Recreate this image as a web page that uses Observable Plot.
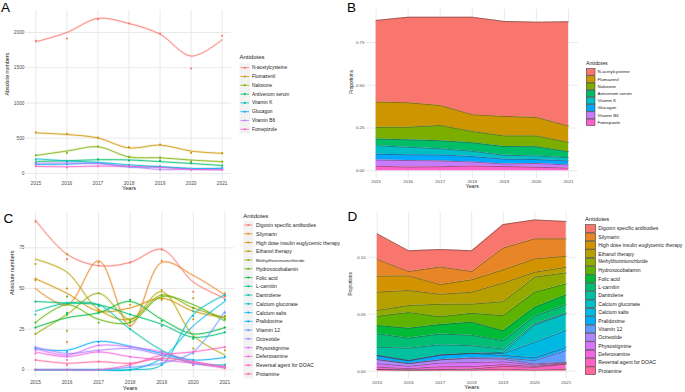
<!DOCTYPE html>
<html><head><meta charset="utf-8">
<script src="https://cdn.jsdelivr.net/npm/d3@7"></script>
<script src="https://cdn.jsdelivr.net/npm/@observablehq/plot@0.6"></script>
<style>
body{margin:0;background:#fff;}
#root{position:relative;width:685px;height:392px;overflow:hidden;background:#fff;}
.panel{position:absolute;overflow:hidden;}
.panel svg{display:block;}
</style></head><body><div id="root"></div>
<script>
// ---------------- DATA ----------------
const years = [2015, 2016, 2017, 2018, 2019, 2020, 2021];

const antidotesA = ["N-acetylcysteine", "Flumazenil", "Naloxone", "Antivenom serum", "Vitamin K", "Glucagon", "Vitamin B6", "Fomepizole"];
const countsA = [
  [1882, 1915, 2189, 2127, 1986, 1490, 1953],
  [585, 561, 509, 373, 410, 292, 288],
  [259, 290, 382, 235, 225, 168, 165],
  [152, 165, 200, 183, 182, 144, 112],
  [195, 168, 153, 119, 82, 56, 61],
  [133, 130, 148, 116, 100, 62, 77],
  [140, 146, 144, 90, 54, 59, 58],
  [105, 84, 102, 104, 89, 56, 51]
];
const trendA = [
  [1868, 2000, 2200, 2127, 1976, 1665, 1896],
  [575, 553, 503, 362, 402, 318, 285],
  [255, 318, 378, 235, 222, 190, 167],
  [170, 180, 195, 192, 168, 142, 112],
  [208, 178, 158, 122, 95, 72, 60],
  [128, 132, 145, 92, 92, 64, 75],
  [145, 148, 140, 100, 55, 58, 56],
  [100, 95, 104, 100, 88, 58, 52]
];
const propB = [
  [0.477, 0.500, 0.516, 0.570, 0.555, 0.557, 0.609],
  [0.148, 0.143, 0.117, 0.098, 0.114, 0.108, 0.096],
  [0.068, 0.074, 0.089, 0.066, 0.062, 0.063, 0.054],
  [0.039, 0.043, 0.047, 0.049, 0.051, 0.054, 0.035],
  [0.050, 0.044, 0.036, 0.032, 0.023, 0.021, 0.019],
  [0.034, 0.034, 0.035, 0.031, 0.028, 0.023, 0.024],
  [0.036, 0.038, 0.034, 0.024, 0.015, 0.022, 0.018],
  [0.027, 0.022, 0.024, 0.028, 0.025, 0.021, 0.016]
];

const antidotesC = ["Digoxin specific antibodies", "Silymarin", "High dose insulin euglycemic therapy", "Ethanol therapy",
  "Methylthioniniumchloride", "Hydroxocobalamin", "Folic acid", "L-carnitin", "Dantrolene", "Calcium gluconate",
  "Calcium salts", "Pralidoxime", "Vitamin 12", "Octreotide", "Physostigmine", "Deferoxamine",
  "Reversal agent for DOAC", "Protamine"];
const countsC = [
  [91, 68, 64, 66, 74, 48, 45],
  [56, 17, 66, 27, 67, 44, 47],
  [55, 50, 36, 40, 43, 31, 33],
  [65, 71, 37, 30, 49, 13, 12],
  [22, 24, 47, 30, 44, 38, 33],
  [29, 45, 29, 29, 46, 38, 31],
  [26, 34, 35, 43, 30, 20, 26],
  [42, 35, 40, 34, 27, 19, 23],
  [34, 41, 39, 25, 11, 3, 3],
  [0, 0, 0, 0, 3, 36, 46],
  [0, 0, 0, 0, 6, 33, 43],
  [13, 11, 17, 14, 9, 6, 8],
  [0, 0, 0, 2, 4, 10, 35],
  [14, 9, 12, 14, 9, 3, 2],
  [12, 8, 15, 14, 11, 4, 2],
  [10, 6, 11, 8, 6, 3, 2],
  [0, 0, 0, 3, 10, 11, 14],
  [6, 3, 5, 4, 7, 5, 1]
];
const trendC = [
  [92, 71, 64, 66, 74, 54, 44],
  [50, 40, 67, 27, 66, 58, 46],
  [56, 47, 36, 38, 44, 36, 32],
  [68, 60, 37, 31, 48, 21, 9],
  [22, 34, 47, 31, 46, 38, 32],
  [29, 40, 31, 29, 45, 40, 30],
  [26, 32, 35, 42, 31, 22, 26],
  [42, 41, 40, 34, 28, 20, 23],
  [36, 41, 40, 25, 12, 4, 3],
  [0, 0, 0, 0, 3, 34, 46],
  [0, 0, 0, 0, 7, 27, 42],
  [13, 12, 17.5, 14.5, 10, 6, 7.5],
  [0, 0, 0, 1.5, 4, 11, 36],
  [14, 10, 12, 13, 9, 4, 1.5],
  [13, 9, 15, 14, 11, 5, 2],
  [11, 8, 11, 8, 6, 4, 1],
  [0, 0, 0, 3, 9, 11, 14],
  [6, 4, 5, 4, 7, 5, 1.5]
];
const propD = [
  [0.0225, 0.0182, 0.0153, 0.0182, 0.0205, 0.0166, 0.0152],
  [0.0147, 0.0038, 0.0154, 0.0072, 0.0192, 0.0176, 0.0152],
  [0.0140, 0.0128, 0.0085, 0.0109, 0.0115, 0.0117, 0.0097],
  [0.0161, 0.0132, 0.0088, 0.0105, 0.0164, 0.0043, 0.0049],
  [0.0052, 0.0061, 0.0110, 0.0080, 0.0123, 0.0132, 0.0097],
  [0.0080, 0.0138, 0.0068, 0.0078, 0.0132, 0.0132, 0.0096],
  [0.0073, 0.0087, 0.0083, 0.0115, 0.0088, 0.0079, 0.0085],
  [0.0117, 0.0088, 0.0094, 0.0091, 0.0073, 0.0067, 0.0073],
  [0.0073, 0.0108, 0.0090, 0.0067, 0.0029, 0.0009, 0.0009],
  [0.0000, 0.0000, 0.0000, 0.0000, 0.0010, 0.0152, 0.0146],
  [0.0003, 0.0003, 0.0002, 0.0002, 0.0015, 0.0137, 0.0146],
  [0.0033, 0.0025, 0.0040, 0.0038, 0.0024, 0.0023, 0.0030],
  [0.0000, 0.0000, 0.0000, 0.0005, 0.0010, 0.0030, 0.0102],
  [0.0036, 0.0023, 0.0028, 0.0036, 0.0024, 0.0010, 0.0006],
  [0.0031, 0.0020, 0.0033, 0.0036, 0.0024, 0.0012, 0.0006],
  [0.0020, 0.0013, 0.0026, 0.0021, 0.0015, 0.0008, 0.0005],
  [0.0000, 0.0000, 0.0000, 0.0008, 0.0025, 0.0024, 0.0044],
  [0.0015, 0.0010, 0.0013, 0.0011, 0.0018, 0.0010, 0.0018]
];

const ticksA = [0, 500, 1000, 1500, 2000];
const ticksB = [0, 0.25, 0.5, 0.75];
const ticksC = [0, 25, 50, 75];
const ticksD = [0, 0.05, 0.10];

// ---------------- STYLE HELPERS ----------------
const FONT = '"Liberation Sans", Arial, Helvetica, sans-serif';
const GRID = "#e6e6e6";
const TICK = "#4d4d4d";
const TITLE = "#1a1a1a";

// ggplot2 default hue palette (HCL, polar LUV)
function hcl2hex(h, c, l) {
  const hr = h * Math.PI / 180;
  const U = c * Math.cos(hr), V = c * Math.sin(hr);
  const Y = l > 7.999592 ? Math.pow((l + 16) / 116, 3) : l / 903.3;
  const u = U / (13 * l) + 0.1978398, v = V / (13 * l) + 0.4683363;
  const X = 9 * Y * u / (4 * v);
  const Z = -X / 3 - 5 * Y + 3 * Y / v;
  const g = t => { t = t > 0.00304 ? 1.055 * Math.pow(t, 1 / 2.4) - 0.055 : 12.92 * t; return Math.round(255 * Math.max(0, Math.min(1, t))); };
  const r = g(3.240479 * X - 1.537150 * Y - 0.498535 * Z);
  const gg = g(-0.969256 * X + 1.875992 * Y + 0.041556 * Z);
  const b = g(0.055648 * X - 0.204043 * Y + 1.057311 * Z);
  return "#" + [r, gg, b].map(d => d.toString(16).padStart(2, "0")).join("");
}
const hue = n => d3.range(n).map(i => hcl2hex(15 + 360 * i / n, 100, 65));
const colorsA = hue(8), colorsC = hue(18);

const longTable = (names, cols) => names.flatMap((name, i) => years.map((year, j) => {
  const row = {name, year};
  for (const [k, arr] of Object.entries(cols)) row[k] = arr[i][j];
  return row;
}));
const tableA = longTable(antidotesA, {count: countsA, trend: trendA});
const tableB = longTable(antidotesA, {prop: propB});
const tableC = longTable(antidotesC, {count: countsC, trend: trendC});
const tableD = longTable(antidotesC, {prop: propD});
const yearFmt = d => String(d);

const root = document.getElementById("root");
function place(svg, left, top, w, h) {
  const div = document.createElement("div");
  div.className = "panel";
  Object.assign(div.style, {left: left + "px", top: top + "px", width: w + "px", height: h + "px"});
  div.appendChild(svg);
  root.appendChild(div);
}

function linePanel({names, colors, table, width, height, mL, mR, mT, mB, ydom, yticks, xPad, yPad, xTitleDy, yTitleDx, tickSize, xTitleSize, yTitleSize, yTitle}) {
  return Plot.plot({
    width, height, marginLeft: mL, marginRight: mR, marginTop: mT, marginBottom: mB,
    x: {domain: [2014.7, 2021.3]},
    y: {domain: ydom},
    color: {domain: names, range: colors},
    style: {fontFamily: FONT, fontSize: tickSize + "px", color: TICK, background: "transparent", overflow: "visible"},
    marks: [
      Plot.gridX(years, {stroke: GRID, strokeOpacity: 1, strokeWidth: 0.9}),
      Plot.gridY(yticks, {stroke: GRID, strokeOpacity: 1, strokeWidth: 0.9}),
      Plot.axisX(years, {tickSize: 0, tickPadding: xPad, tickFormat: yearFmt, label: null}),
      Plot.axisY(yticks, {tickSize: 0, tickPadding: yPad, tickFormat: yearFmt, label: null}),
      Plot.line(table, {x: "year", y: "trend", z: "name", stroke: "name", curve: "catmull-rom", strokeWidth: 2.6, strokeOpacity: 0.16}),
      Plot.line(table, {x: "year", y: "trend", z: "name", stroke: "name", curve: "catmull-rom", strokeWidth: 0.8}),
      Plot.dot(table, {x: "year", y: "count", fill: "name", r: 1.05}),
      Plot.text(["Years"], {frameAnchor: "bottom", dy: xTitleDy, fontSize: xTitleSize, fill: TITLE}),
      Plot.text([yTitle], {frameAnchor: "left", dx: yTitleDx, rotate: -90, fontSize: yTitleSize, fill: TITLE})
    ]
  });
}

function areaPanel({names, colors, table, width, height, mL, mR, mT, mB, ydom, yticks, xPad, yPad, xTitleDy, yTitleDx, tickSize, xTitleSize, yTitleSize}) {
  const order = names.slice().reverse();
  return Plot.plot({
    width, height, marginLeft: mL, marginRight: mR, marginTop: mT, marginBottom: mB,
    x: {domain: [2014.7, 2021.3]},
    y: {domain: ydom},
    color: {domain: names, range: colors},
    style: {fontFamily: FONT, fontSize: tickSize + "px", color: TICK, background: "transparent", overflow: "visible"},
    marks: [
      Plot.gridX(years, {stroke: GRID, strokeOpacity: 1, strokeWidth: 0.9}),
      Plot.gridY(yticks, {stroke: GRID, strokeOpacity: 1, strokeWidth: 0.9}),
      Plot.axisX(years, {tickSize: 0, tickPadding: xPad, tickFormat: yearFmt, label: null}),
      Plot.axisY(yticks, {tickSize: 0, tickPadding: yPad, tickFormat: d3.format(".2f"), label: null}),
      Plot.areaY(table, {x: "year", y: "prop", z: "name", fill: "name", order}),
      Plot.lineY(table, Plot.stackY2({x: "year", y: "prop", z: "name", order, stroke: "#3a3a3a", strokeWidth: 0.55, strokeOpacity: 0.85})),
      Plot.text(["Years"], {frameAnchor: "bottom", dy: xTitleDy, fontSize: xTitleSize, fill: TITLE}),
      Plot.text(["Proportions"], {frameAnchor: "left", dx: yTitleDx, rotate: -90, fontSize: yTitleSize, fill: TITLE})
    ]
  });
}

// Panel A
place(linePanel({names: antidotesA, colors: colorsA, table: tableA, width: 232, height: 195,
  mL: 26, mR: 1, mT: 10, mB: 15, ydom: [-100, 2312], yticks: ticksA, xPad: 0.8, yPad: 2,
  xTitleDy: 9.5, yTitleDx: -19, tickSize: 4.8, xTitleSize: 5.6, yTitleSize: 5.3, yTitle: "Absolute numbers"}), 0, 0, 232, 195);

// Panel B
place(areaPanel({names: antidotesA, colors: colorsA, table: tableB, width: 240, height: 195,
  mL: 26, mR: 2.4, mT: 9, mB: 17, ydom: [-0.045, 0.943], yticks: ticksB, xPad: 1.5, yPad: 2,
  xTitleDy: 9.3, yTitleDx: -15, tickSize: 4.4, xTitleSize: 5.3, yTitleSize: 4.7}), 340, 0, 240, 195);

// Panel C
place(linePanel({names: antidotesC, colors: colorsC, table: tableC, width: 236, height: 197,
  mL: 25.5, mR: 2.2, mT: 16.5, mB: 14.6, ydom: [-5, 97], yticks: ticksC, xPad: 3, yPad: 1.5,
  xTitleDy: 11.6, yTitleDx: -13.5, tickSize: 4.8, xTitleSize: 5.8, yTitleSize: 5.5, yTitle: "Absolute numbers"}), 0, 195, 236, 197);

// Panel D
place(areaPanel({names: antidotesC, colors: colorsC, table: tableD, width: 238, height: 197,
  mL: 27.25, mR: 2.85, mT: 16.9, mB: 13.8, ydom: [-0.0066, 0.1393], yticks: ticksD, xPad: 1.9, yPad: 2,
  xTitleDy: 10.1, yTitleDx: -17, tickSize: 4.4, xTitleSize: 5.9, yTitleSize: 4.6}), 340, 195, 238, 197);

// ---------------- Overlay: panel letters and legends ----------------
const ov = d3.select(root).append("svg")
  .attr("width", 685).attr("height", 392)
  .style("position", "absolute").style("left", 0).style("top", 0)
  .style("font-family", FONT);

ov.append("defs").append("clipPath").attr("id", "clipC")
  .append("rect").attr("x", 0).attr("y", 195).attr("width", 340).attr("height", 197);

[["A", 1, 12], ["B", 347, 12], ["C", 3.5, 223], ["D", 347.5, 221]].forEach(([t, x, y]) =>
  ov.append("text").attr("x", x).attr("y", y).attr("font-size", 13.5).attr("fill", "#000").text(t));

function lineLegend({x, titleY, y0, step, names, colors, keyW, labelX, fontSize, titleSize, clip, special}) {
  const g = ov.append("g");
  if (clip) g.attr("clip-path", "url(#clipC)");
  g.append("text").attr("x", x).attr("y", titleY).attr("dominant-baseline", "central")
    .attr("font-size", titleSize).attr("fill", TITLE).text("Antidotes");
  names.forEach((n, i) => {
    const cy = y0 + i * step;
    g.append("rect").attr("x", x).attr("y", cy - step / 2).attr("width", keyW).attr("height", step).attr("fill", "#f2f2f2");
    g.append("line").attr("x1", x + 1).attr("x2", x + keyW - 1).attr("y1", cy).attr("y2", cy)
      .attr("stroke", colors[i]).attr("stroke-width", 0.8);
    g.append("circle").attr("cx", x + keyW / 2).attr("cy", cy).attr("r", 1.05).attr("fill", colors[i]);
    g.append("text").attr("x", labelX).attr("y", cy).attr("dominant-baseline", "central")
      .attr("font-size", special && special[n] ? special[n] : fontSize).attr("fill", TITLE).text(n);
  });
}
function fillLegend({x, titleY, top, step, names, colors, keyW, labelX, fontSize, titleSize, special}) {
  const g = ov.append("g");
  g.append("text").attr("x", x).attr("y", titleY).attr("dominant-baseline", "central")
    .attr("font-size", titleSize).attr("fill", TITLE).text("Antidotes");
  names.forEach((n, i) => {
    const y = top + i * step;
    g.append("rect").attr("x", x + 0.3).attr("y", y + 0.3).attr("width", keyW - 0.6).attr("height", step - 0.6)
      .attr("fill", colors[i]).attr("stroke", "#3a3a3a").attr("stroke-width", 0.55);
    g.append("text").attr("x", labelX).attr("y", y + step / 2).attr("dominant-baseline", "central")
      .attr("font-size", special && special[n] ? special[n] : fontSize).attr("fill", TITLE).text(n);
  });
}

lineLegend({x: 239.5, titleY: 57.3, y0: 67.7, step: 8.8, names: antidotesA, colors: colorsA, keyW: 10.5,
  labelX: 252, fontSize: 4.8, titleSize: 6});
fillLegend({x: 586, titleY: 63.3, top: 68.3, step: 7.2, names: antidotesA, colors: colorsA, keyW: 9.3,
  labelX: 597.5, fontSize: 4.4, titleSize: 5.2});
lineLegend({x: 243.3, titleY: 215.7, y0: 225, step: 8.76, names: antidotesC, colors: colorsC, keyW: 10,
  labelX: 256, fontSize: 5.1, titleSize: 6, clip: true, special: {"Methylthioniniumchloride": 4.4}});
fillLegend({x: 585, titleY: 219, top: 224.3, step: 8.37, names: antidotesC, colors: colorsC, keyW: 11,
  labelX: 598.3, fontSize: 5.1, titleSize: 5.8, special: {"Methylthioniniumchloride": 4.5}});
</script></body></html>
